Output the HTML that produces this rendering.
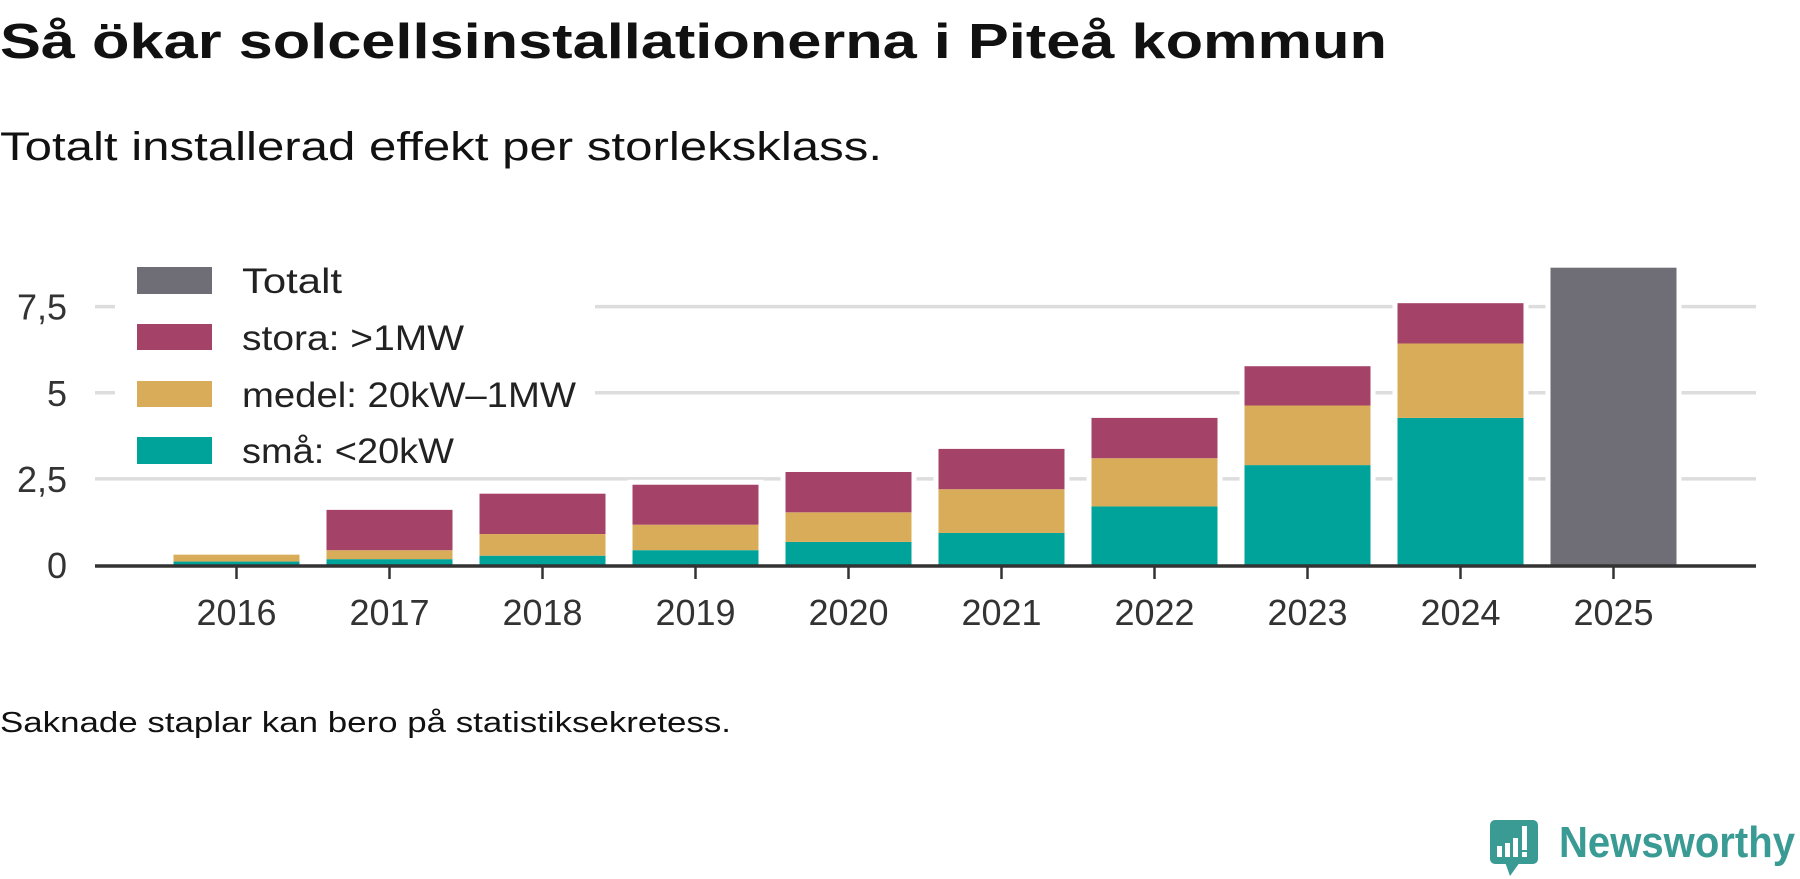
<!DOCTYPE html>
<html><head><meta charset="utf-8">
<style>
html,body{margin:0;padding:0;background:#fff;}
svg{display:block;font-family:"Liberation Sans",sans-serif;}
</style></head>
<body>
<svg id="chart" width="1800" height="879" viewBox="0 0 1800 879">
<text x="0" y="58" font-size="49" font-weight="bold" fill="#111" textLength="1387" lengthAdjust="spacingAndGlyphs">Så ökar solcellsinstallationerna i Piteå kommun</text>
<text x="0" y="160" font-size="40" fill="#111" textLength="882" lengthAdjust="spacingAndGlyphs">Totalt installerad effekt per storleksklass.</text>
<g id="grid"></g>
<g id="bars"></g>
<g id="axes"></g>
<g id="legend">
<rect x="115" y="258" width="480" height="216" fill="#fff"/>
<g><rect x="137" y="267" width="75" height="27" fill="#6f6d75"/><text x="242" y="293" font-size="35" fill="#222" textLength="100" lengthAdjust="spacingAndGlyphs">Totalt</text></g>
<g><rect x="137" y="324" width="75" height="26" fill="#a54268"/><text x="242" y="350" font-size="35" fill="#222" textLength="222" lengthAdjust="spacingAndGlyphs">stora: &gt;1MW</text></g>
<g><rect x="137" y="381" width="75" height="26" fill="#d9ac5a"/><text x="242" y="407" font-size="35" fill="#222" textLength="334" lengthAdjust="spacingAndGlyphs">medel: 20kW–1MW</text></g>
<g><rect x="137" y="437" width="75" height="27" fill="#00a39a"/><text x="242" y="463" font-size="35" fill="#222" textLength="212" lengthAdjust="spacingAndGlyphs">små: &lt;20kW</text></g>
</g>
<text x="0" y="732" font-size="29" fill="#111" textLength="731" lengthAdjust="spacingAndGlyphs">Saknade staplar kan bero på statistiksekretess.</text>
<g>
<rect x="1490" y="820" width="48" height="44" rx="5" fill="#3a9a94"/>
<polygon points="1505,862 1520,862 1510,876" fill="#3a9a94"/>
<rect x="1497" y="846" width="5" height="11" fill="#fff"/><rect x="1505" y="843" width="5" height="14" fill="#fff"/><rect x="1513" y="838" width="5" height="19" fill="#fff"/><rect x="1522" y="826" width="5" height="24" fill="#fff"/><rect x="1522" y="852" width="5" height="5" fill="#fff"/>
<text x="1559" y="857" font-size="44" font-weight="bold" fill="#3a9a94" textLength="236" lengthAdjust="spacingAndGlyphs">Newsworthy</text>
</g>
</svg>
<script>
const years = ["2016","2017","2018","2019","2020","2021","2022","2023","2024","2025"];
const sma   = [0.1, 0.17, 0.27, 0.43, 0.67, 0.93, 1.7, 2.9, 4.27, null];
const medel = [0.2, 0.26, 0.63, 0.74, 0.86, 1.27, 1.4, 1.73, 2.16, null];
const stora = [0, 1.17, 1.17, 1.16, 1.17, 1.17, 1.17, 1.14, 1.17, null];
const totalt = [null, null, null, null, null, null, null, null, null, 8.63];
const yTicks = [0, 2.5, 5, 7.5];
const yTickLabels = ["0", "2,5", "5", "7,5"];

const NS = "http://www.w3.org/2000/svg";
const y0 = 565, pxPerUnit = 34.45;
const yScale = v => y0 - v * pxPerUnit;
const xLeft = 95, xRight = 1756, step = 153, firstCenter = 236.5, barW = 126;
const xScale = i => firstCenter + step * i;
function mk(tag, attrs, parent){const e=document.createElementNS(NS,tag);for(const k in attrs)e.setAttribute(k,attrs[k]);parent.appendChild(e);return e;}
const grid=document.getElementById('grid'), bars=document.getElementById('bars'), axes=document.getElementById('axes');
yTicks.forEach((t,i)=>{
  if(t>0){const l=mk('line',{x1:xLeft,x2:xRight,y1:yScale(t),y2:yScale(t),stroke:'#dddddd','stroke-width':3.5},grid);
  
  }
  const tx=mk('text',{x:67,y:yScale(t)+13,'font-size':36,fill:'#333','text-anchor':'end'},axes);
  tx.textContent=yTickLabels[i];
  
  
});
const series=[[sma,'#00a39a','sma'],[medel,'#d9ac5a','medel'],[stora,'#a54268','stora']];
years.forEach((yr,i)=>{
  const cx=xScale(i);
  let base=0;
  let tot=0; series.forEach(s=>{if(s[0][i])tot+=s[0][i];});
  if(totalt[i]!=null) tot=Math.max(tot,totalt[i]);
  if(tot>0){mk('rect',{x:cx-barW/2-5,y:yScale(tot)-5,width:barW+10,height:yScale(0)-yScale(tot)+5,fill:'#fff'},bars);}
  if(totalt[i]!=null){
    const r=mk('rect',{x:cx-barW/2,y:yScale(totalt[i]),width:barW,height:yScale(0)-yScale(totalt[i]),fill:'#6f6d75'},bars);
    
    
  }
  series.forEach(s=>{
    const v=s[0][i]; if(!v) return;
    const r=mk('rect',{x:cx-barW/2,y:yScale(base+v),width:barW,height:yScale(base)-yScale(base+v),fill:s[1]},bars);
    
    
    base+=v;
  });
  const tk=mk('line',{x1:cx,x2:cx,y1:y0,y2:y0+14,stroke:'#333','stroke-width':2.5},axes);
  
  
  const lb=mk('text',{x:cx,y:625,'font-size':36,fill:'#333','text-anchor':'middle'},axes);
  lb.textContent=yr;
  
  
});
const ax=mk('line',{x1:xLeft,x2:xRight,y1:y0+1,y2:y0+1,stroke:'#333','stroke-width':3.5},axes);


</script>
</body></html>
